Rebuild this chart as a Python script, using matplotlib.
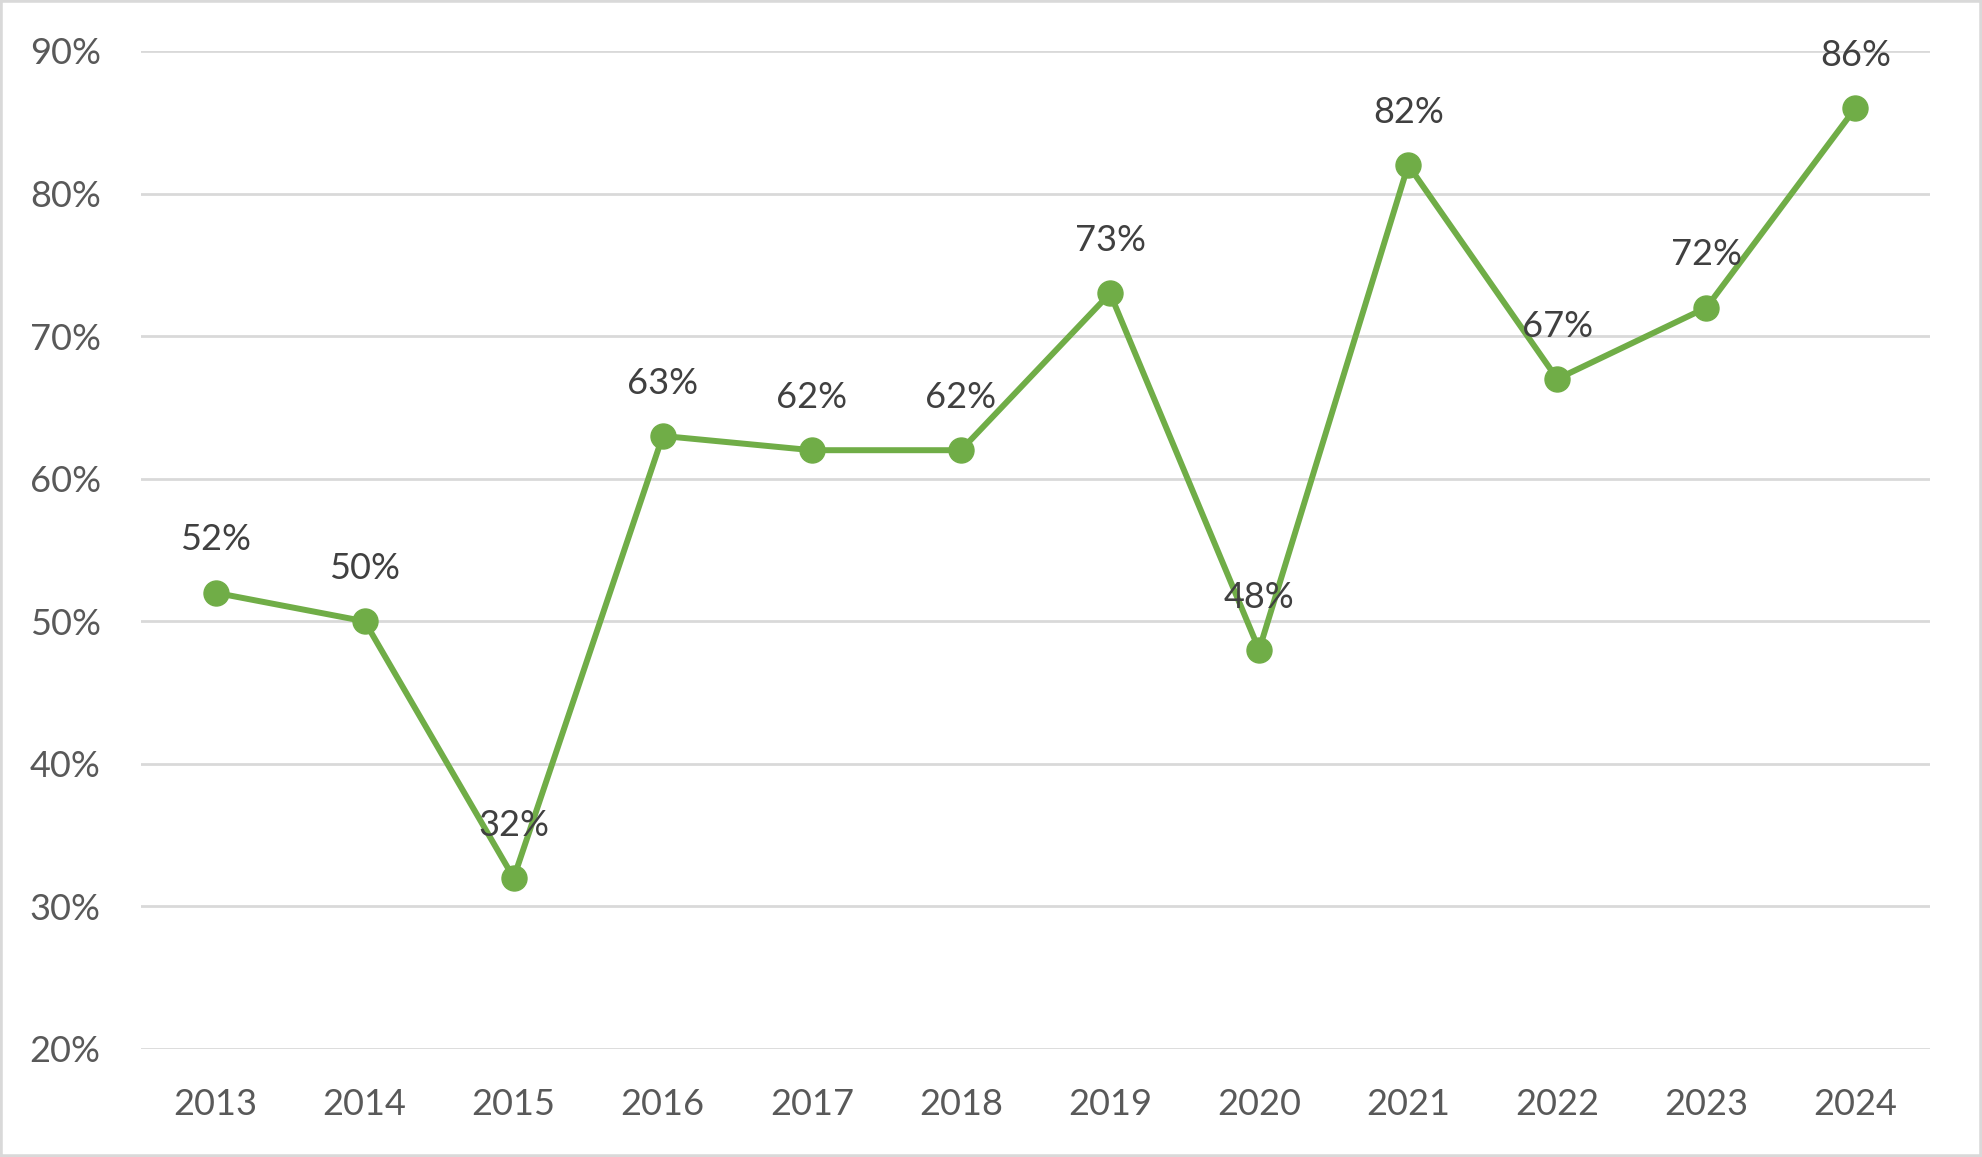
import matplotlib
matplotlib.use("Agg")
import matplotlib.pyplot as plt
from matplotlib.patches import Rectangle
from matplotlib.ticker import FuncFormatter

years = ["2013", "2014", "2015", "2016", "2017", "2018", "2019", "2020", "2021", "2022", "2023", "2024"]
values = [52, 50, 32, 63, 62, 62, 73, 48, 82, 67, 72, 86]
yticks = [20, 30, 40, 50, 60, 70, 80, 90]

plt.rcParams['font.family'] = ['Lato', 'DejaVu Sans']

W, H, DPI = 1982, 1157, 100
fig = plt.figure(figsize=(W / DPI, H / DPI), dpi=DPI)
fig.patch.set_facecolor('white')

left, right = 141 / W, 1930 / W
top, bottom = 1 - 51 / H, 1 - 1049 / H
ax = fig.add_axes([left, bottom, right - left, top - bottom])

x = list(range(len(years)))
ax.plot(x, values, color='#70AD47', linewidth=4.3, marker='o', markersize=18,
        markerfacecolor='#70AD47', markeredgecolor='#70AD47', zorder=3, clip_on=False)

for xi, v in zip(x, values):
    ax.annotate(f"{v}%", (xi, v), xytext=(0, 38), textcoords='offset points',
                ha='center', va='center', fontsize=26, color='#404040', zorder=4)

ax.set_xlim(-0.5, len(years) - 0.5)
ax.set_ylim(20, 90)
ax.set_yticks(yticks)
ax.yaxis.set_major_formatter(FuncFormatter(lambda v, p: f"{int(v)}%"))
ax.set_xticks(x)
ax.set_xticklabels(years)

ax.grid(axis='y', color='#D9D9D9', linewidth=2.0, zorder=0)
ax.set_axisbelow(True)
for s in ax.spines.values():
    s.set_visible(False)
ax.tick_params(axis='both', length=0, labelsize=26, labelcolor='#595959')
ax.tick_params(axis='y', pad=29)
ax.tick_params(axis='x', pad=28)

fig.patches.append(Rectangle((0, 0), 1, 1, transform=fig.transFigure, fill=False,
                             edgecolor='#D9D9D9', linewidth=4, zorder=10))

fig.savefig("out.png", dpi=DPI, facecolor='white')
